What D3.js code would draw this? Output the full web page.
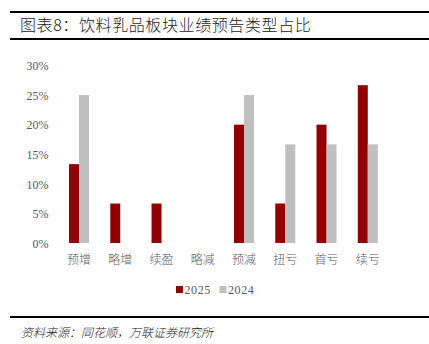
<!DOCTYPE html>
<html>
<head>
<meta charset="utf-8">
<script src="https://cdn.jsdelivr.net/npm/d3@7"></script>
<style>
  html, body { margin: 0; padding: 0; background: #fff; }
  svg { display: block; }
</style>
</head>
<body>
<svg id="chart" width="429" height="344"></svg>
<script>
// Chart data
const categories = ["预增", "略增", "续盈", "略减", "预减", "扭亏", "首亏", "续亏"];
const seriesNames = ["2025", "2024"];
const values2025 = [13.33, 6.67, 6.67, 0, 20, 6.67, 20, 26.67];
const values2024 = [25, 0, 0, 0, 25, 16.67, 16.67, 16.67];
const yTicks = [0, 5, 10, 15, 20, 25, 30];
const colors = ["#900000", "#BFBFBF"];

const title = "图表8：饮料乳品板块业绩预告类型占比";
const source = "资料来源：同花顺，万联证券研究所";

const svg = d3.select("#chart");
const W = 429;
const cjk = "'Noto Sans CJK SC', sans-serif";
const serif = "'Liberation Serif', 'Times New Roman', serif";

// Header rules and title
svg.append("rect").attr("x", 10).attr("y", 11).attr("width", W - 10).attr("height", 2).attr("fill", "#000");
svg.append("rect").attr("x", 10).attr("y", 38).attr("width", W - 10).attr("height", 2).attr("fill", "#000");
svg.append("text")
  .attr("x", 20).attr("y", 31)
  .attr("font-family", cjk).attr("font-size", 16).attr("font-weight", 300)
  .attr("letter-spacing", 0.6).attr("fill", "#222")
  .text(title);

// Plot area
const plot = { left: 58.4, right: 388.4, top: 65.5, bottom: 243 };
const x0 = d3.scaleBand().domain(categories).range([plot.left, plot.right]).paddingInner(0).paddingOuter(0);
const barW = 10;
const x1 = d3.scaleBand().domain(seriesNames).range([0, barW * 2]);
const y = d3.scaleLinear().domain([0, 30]).range([plot.bottom, plot.top]);

// Y axis labels (no axis line)
const yAxis = d3.axisLeft(y).tickValues(yTicks).tickSize(0).tickPadding(0).tickFormat(d => d + "%");
const gy = svg.append("g").attr("transform", `translate(48.5,0)`).call(yAxis);
gy.select(".domain").remove();
gy.selectAll("text").attr("font-family", serif).attr("font-size", 12).attr("fill", "#595959").attr("dy", "0.35em");

// Bars
const rows = categories.map((c, i) => ({ cat: c, vals: [values2025[i], values2024[i]] }));
const groups = svg.append("g").selectAll("g").data(rows).join("g")
  .attr("transform", d => `translate(${x0(d.cat) + x0.bandwidth() / 2 - barW},0)`);
groups.selectAll("rect")
  .data(d => d.vals.map((v, k) => ({ key: seriesNames[k], v, k })))
  .join("rect")
  .attr("x", d => x1(d.key))
  .attr("width", barW)
  .attr("y", d => y(d.v))
  .attr("height", d => y(0) - y(d.v))
  .attr("fill", d => colors[d.k]);

// X axis labels
const xAxis = d3.axisBottom(x0).tickSize(0).tickPadding(0);
const gx = svg.append("g").attr("transform", `translate(0,${plot.bottom})`).call(xAxis);
gx.select(".domain").remove();
gx.selectAll("text").attr("font-family", cjk).attr("font-size", 12).attr("font-weight", 300)
  .attr("fill", "#595959").attr("dy", null).attr("y", 21);

// Legend
const legendItems = [{ name: "2025", x: 176 }, { name: "2024", x: 219.5 }];
const lg = svg.append("g").selectAll("g").data(legendItems).join("g")
  .attr("transform", d => `translate(${d.x},286)`);
lg.append("rect").attr("width", 7).attr("height", 7).attr("fill", (d, i) => colors[i]);
lg.append("text").attr("x", 8.5).attr("y", 7.5)
  .attr("font-family", serif).attr("font-size", 12).attr("fill", "#595959")
  .attr("letter-spacing", 0.6)
  .text(d => d.name);

// Footer rule and source note
svg.append("rect").attr("x", 10).attr("y", 316).attr("width", W - 10).attr("height", 2).attr("fill", "#000");
svg.append("text")
  .attr("x", 21).attr("y", 337)
  .attr("font-family", cjk).attr("font-size", 12).attr("font-style", "italic").attr("font-weight", 300)
  .attr("fill", "#222")
  .text(source);
</script>
</body>
</html>
